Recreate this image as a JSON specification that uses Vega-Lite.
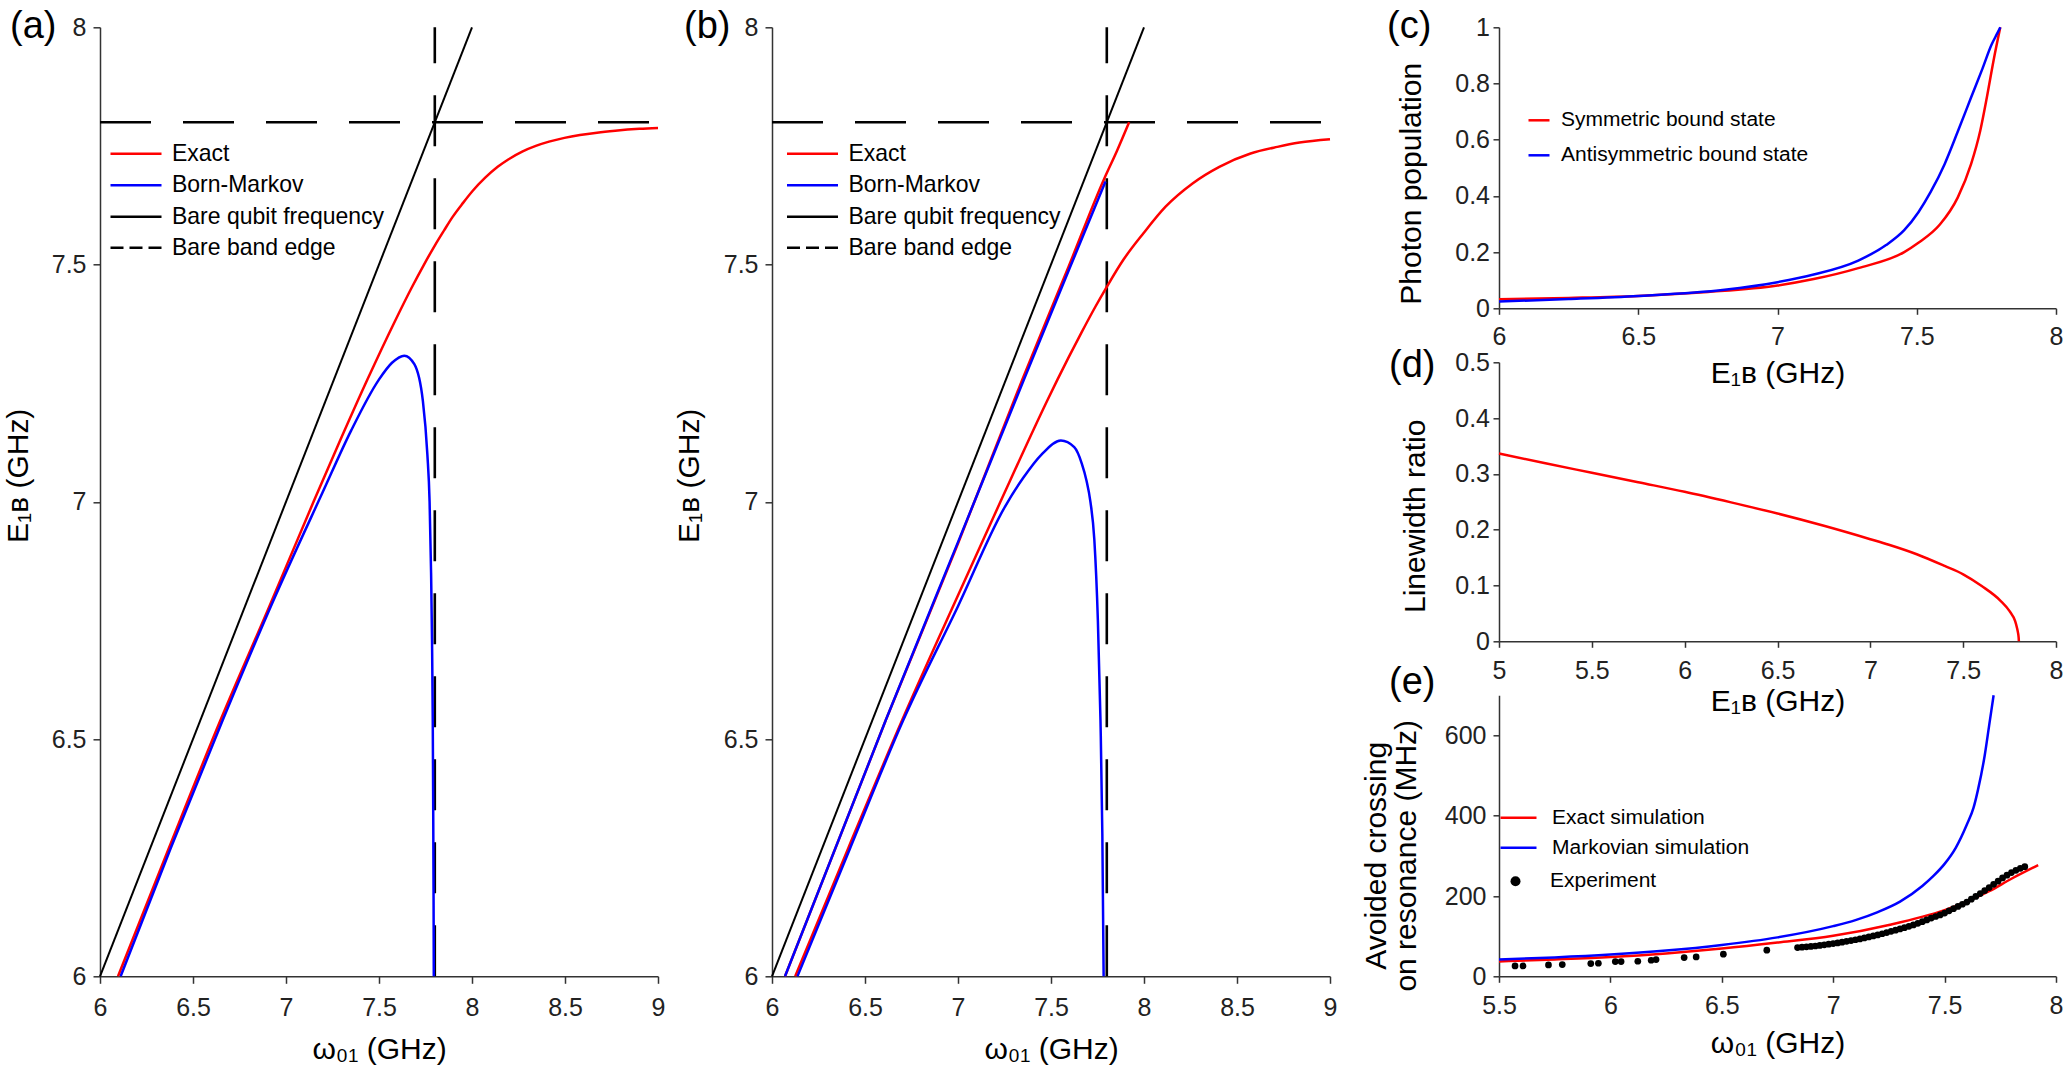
{
 "$schema": "https://vega.github.io/schema/vega-lite/v6.json",
 "background": "white",
 "padding": {"left": 3, "top": 8.3, "right": 5, "bottom": 5},
 "config": {
  "font": "Liberation Sans",
  "view": {"stroke": null},
  "axis": {"grid": false, "domainColor": "#333333", "domainWidth": 1.5, "tickColor": "#333333", "tickWidth": 1.5, "tickSize": 7, "labelFont": "Liberation Sans", "labelFontSize": 25, "labelColor": "#222222", "titleFont": "Liberation Sans", "titleFontSize": 30, "titleFontWeight": "normal", "titleColor": "#000000", "labelFlush": false, "labelOverlap": false},
  "legend": {"labelFont": "Liberation Sans", "labelColor": "#000000", "padding": 0, "labelLimit": 600}
 },
 "datasets": {
  "edges": [{"x": 6, "xe": 9, "y": 7.8, "ye": 7.8}, {"x": 7.8, "xe": 7.8, "y": 6, "ye": 8}],
  "a": [
   {"x": 6, "y": 6, "s": "Bare qubit frequency", "c": "bq"}, {"x": 8, "y": 8, "s": "Bare qubit frequency", "c": "bq"},
   {"x": 6.097, "y": 6.0, "s": "Exact", "c": "ex"}, {"x": 6.37, "y": 6.27, "s": "Exact", "c": "ex"}, {"x": 6.648, "y": 6.54, "s": "Exact", "c": "ex"}, {"x": 6.9, "y": 6.77, "s": "Exact", "c": "ex"}, {"x": 7.148, "y": 7.0, "s": "Exact", "c": "ex"}, {"x": 7.292, "y": 7.13, "s": "Exact", "c": "ex"}, {"x": 7.437, "y": 7.257, "s": "Exact", "c": "ex"}, {"x": 7.585, "y": 7.38, "s": "Exact", "c": "ex"}, {"x": 7.674, "y": 7.45, "s": "Exact", "c": "ex"}, {"x": 7.742, "y": 7.5, "s": "Exact", "c": "ex"}, {"x": 7.8, "y": 7.54, "s": "Exact", "c": "ex"}, {"x": 7.85, "y": 7.572, "s": "Exact", "c": "ex"}, {"x": 7.895, "y": 7.6, "s": "Exact", "c": "ex"}, {"x": 7.952, "y": 7.63, "s": "Exact", "c": "ex"}, {"x": 8.003, "y": 7.655, "s": "Exact", "c": "ex"}, {"x": 8.071, "y": 7.683, "s": "Exact", "c": "ex"}, {"x": 8.138, "y": 7.706, "s": "Exact", "c": "ex"}, {"x": 8.197, "y": 7.722, "s": "Exact", "c": "ex"}, {"x": 8.27, "y": 7.738, "s": "Exact", "c": "ex"}, {"x": 8.343, "y": 7.75, "s": "Exact", "c": "ex"}, {"x": 8.414, "y": 7.759, "s": "Exact", "c": "ex"}, {"x": 8.497, "y": 7.767, "s": "Exact", "c": "ex"}, {"x": 8.58, "y": 7.773, "s": "Exact", "c": "ex"}, {"x": 8.672, "y": 7.778, "s": "Exact", "c": "ex"}, {"x": 8.77, "y": 7.782, "s": "Exact", "c": "ex"}, {"x": 8.9, "y": 7.786, "s": "Exact", "c": "ex"}, {"x": 9.0, "y": 7.788, "s": "Exact", "c": "ex"},
   {"x": 6.111, "y": 6.0, "s": "Born-Markov", "c": "bm"}, {"x": 6.38, "y": 6.27, "s": "Born-Markov", "c": "bm"}, {"x": 6.66, "y": 6.54, "s": "Born-Markov", "c": "bm"}, {"x": 6.93, "y": 6.79, "s": "Born-Markov", "c": "bm"}, {"x": 7.197, "y": 7.02, "s": "Born-Markov", "c": "bm"}, {"x": 7.35, "y": 7.15, "s": "Born-Markov", "c": "bm"}, {"x": 7.497, "y": 7.256, "s": "Born-Markov", "c": "bm"}, {"x": 7.57, "y": 7.293, "s": "Born-Markov", "c": "bm"}, {"x": 7.636, "y": 7.308, "s": "Born-Markov", "c": "bm"}, {"x": 7.69, "y": 7.29, "s": "Born-Markov", "c": "bm"}, {"x": 7.736, "y": 7.212, "s": "Born-Markov", "c": "bm"}, {"x": 7.76, "y": 7.1, "s": "Born-Markov", "c": "bm"}, {"x": 7.772, "y": 7.0, "s": "Born-Markov", "c": "bm"}, {"x": 7.78, "y": 6.85, "s": "Born-Markov", "c": "bm"}, {"x": 7.785, "y": 6.71, "s": "Born-Markov", "c": "bm"}, {"x": 7.789, "y": 6.54, "s": "Born-Markov", "c": "bm"}, {"x": 7.791, "y": 6.39, "s": "Born-Markov", "c": "bm"}, {"x": 7.7935, "y": 6.15, "s": "Born-Markov", "c": "bm"}, {"x": 7.7945, "y": 6.0, "s": "Born-Markov", "c": "bm"}
  ],
  "b": [
   {"x": 6, "y": 6, "s": "Bare qubit frequency", "c": "bq"}, {"x": 8, "y": 8, "s": "Bare qubit frequency", "c": "bq"},
   {"x": 6.07, "y": 6.0, "s": "Exact", "c": "exu"}, {"x": 6.612, "y": 6.54, "s": "Exact", "c": "exu"}, {"x": 7.0, "y": 6.912, "s": "Exact", "c": "exu"}, {"x": 7.345, "y": 7.257, "s": "Exact", "c": "exu"}, {"x": 7.595, "y": 7.496, "s": "Exact", "c": "exu"}, {"x": 7.785, "y": 7.68, "s": "Exact", "c": "exu"}, {"x": 7.855, "y": 7.74, "s": "Exact", "c": "exu"}, {"x": 7.92, "y": 7.8, "s": "Exact", "c": "exu"},
   {"x": 6.125, "y": 6.0, "s": "Exact", "c": "exl"}, {"x": 6.41, "y": 6.27, "s": "Exact", "c": "exl"}, {"x": 6.7, "y": 6.54, "s": "Exact", "c": "exl"}, {"x": 6.962, "y": 6.77, "s": "Exact", "c": "exl"}, {"x": 7.228, "y": 7.0, "s": "Exact", "c": "exl"}, {"x": 7.482, "y": 7.215, "s": "Exact", "c": "exl"}, {"x": 7.534, "y": 7.257, "s": "Exact", "c": "exl"}, {"x": 7.663, "y": 7.356, "s": "Exact", "c": "exl"}, {"x": 7.737, "y": 7.41, "s": "Exact", "c": "exl"}, {"x": 7.8, "y": 7.453, "s": "Exact", "c": "exl"}, {"x": 7.889, "y": 7.51, "s": "Exact", "c": "exl"}, {"x": 7.997, "y": 7.566, "s": "Exact", "c": "exl"}, {"x": 8.116, "y": 7.622, "s": "Exact", "c": "exl"}, {"x": 8.261, "y": 7.671, "s": "Exact", "c": "exl"}, {"x": 8.405, "y": 7.706, "s": "Exact", "c": "exl"}, {"x": 8.573, "y": 7.734, "s": "Exact", "c": "exl"}, {"x": 8.717, "y": 7.748, "s": "Exact", "c": "exl"}, {"x": 8.836, "y": 7.757, "s": "Exact", "c": "exl"}, {"x": 9.0, "y": 7.764, "s": "Exact", "c": "exl"},
   {"x": 6.07, "y": 6.0, "s": "Born-Markov", "c": "bmu"}, {"x": 6.612, "y": 6.54, "s": "Born-Markov", "c": "bmu"}, {"x": 7.0, "y": 6.915, "s": "Born-Markov", "c": "bmu"}, {"x": 7.354, "y": 7.257, "s": "Born-Markov", "c": "bmu"}, {"x": 7.6, "y": 7.492, "s": "Born-Markov", "c": "bmu"}, {"x": 7.793, "y": 7.675, "s": "Born-Markov", "c": "bmu"},
   {"x": 6.137, "y": 6.0, "s": "Born-Markov", "c": "bml"}, {"x": 6.42, "y": 6.27, "s": "Born-Markov", "c": "bml"}, {"x": 6.706, "y": 6.54, "s": "Born-Markov", "c": "bml"}, {"x": 7.0, "y": 6.78, "s": "Born-Markov", "c": "bml"}, {"x": 7.253, "y": 6.99, "s": "Born-Markov", "c": "bml"}, {"x": 7.35, "y": 7.05, "s": "Born-Markov", "c": "bml"}, {"x": 7.45, "y": 7.1, "s": "Born-Markov", "c": "bml"}, {"x": 7.553, "y": 7.129, "s": "Born-Markov", "c": "bml"}, {"x": 7.625, "y": 7.115, "s": "Born-Markov", "c": "bml"}, {"x": 7.666, "y": 7.08, "s": "Born-Markov", "c": "bml"}, {"x": 7.69, "y": 7.046, "s": "Born-Markov", "c": "bml"}, {"x": 7.712, "y": 7.0, "s": "Born-Markov", "c": "bml"}, {"x": 7.733, "y": 6.92, "s": "Born-Markov", "c": "bml"}, {"x": 7.752, "y": 6.75, "s": "Born-Markov", "c": "bml"}, {"x": 7.766, "y": 6.54, "s": "Born-Markov", "c": "bml"}, {"x": 7.776, "y": 6.3, "s": "Born-Markov", "c": "bml"}, {"x": 7.783, "y": 6.0, "s": "Born-Markov", "c": "bml"}
  ],
  "c": [
   {"x": 6.0, "y": 0.032, "s": "Symmetric bound state"}, {"x": 6.25, "y": 0.037, "s": "Symmetric bound state"}, {"x": 6.5, "y": 0.044, "s": "Symmetric bound state"}, {"x": 6.75, "y": 0.058, "s": "Symmetric bound state"}, {"x": 7.0, "y": 0.081, "s": "Symmetric bound state"}, {"x": 7.13, "y": 0.104, "s": "Symmetric bound state"}, {"x": 7.29, "y": 0.143, "s": "Symmetric bound state"}, {"x": 7.455, "y": 0.2, "s": "Symmetric bound state"}, {"x": 7.506, "y": 0.233, "s": "Symmetric bound state"}, {"x": 7.583, "y": 0.298, "s": "Symmetric bound state"}, {"x": 7.647, "y": 0.394, "s": "Symmetric bound state"}, {"x": 7.695, "y": 0.513, "s": "Symmetric bound state"}, {"x": 7.728, "y": 0.632, "s": "Symmetric bound state"}, {"x": 7.752, "y": 0.752, "s": "Symmetric bound state"}, {"x": 7.776, "y": 0.883, "s": "Symmetric bound state"}, {"x": 7.8, "y": 1.0, "s": "Symmetric bound state"},
   {"x": 6.0, "y": 0.024, "s": "Antisymmetric bound state"}, {"x": 6.25, "y": 0.033, "s": "Antisymmetric bound state"}, {"x": 6.5, "y": 0.044, "s": "Antisymmetric bound state"}, {"x": 6.81, "y": 0.066, "s": "Antisymmetric bound state"}, {"x": 7.0, "y": 0.093, "s": "Antisymmetric bound state"}, {"x": 7.13, "y": 0.12, "s": "Antisymmetric bound state"}, {"x": 7.29, "y": 0.17, "s": "Antisymmetric bound state"}, {"x": 7.39, "y": 0.225, "s": "Antisymmetric bound state"}, {"x": 7.455, "y": 0.278, "s": "Antisymmetric bound state"}, {"x": 7.506, "y": 0.342, "s": "Antisymmetric bound state"}, {"x": 7.55, "y": 0.414, "s": "Antisymmetric bound state"}, {"x": 7.6, "y": 0.513, "s": "Antisymmetric bound state"}, {"x": 7.647, "y": 0.628, "s": "Antisymmetric bound state"}, {"x": 7.695, "y": 0.75, "s": "Antisymmetric bound state"}, {"x": 7.736, "y": 0.853, "s": "Antisymmetric bound state"}, {"x": 7.768, "y": 0.937, "s": "Antisymmetric bound state"}, {"x": 7.79, "y": 0.98, "s": "Antisymmetric bound state"}, {"x": 7.8, "y": 1.0, "s": "Antisymmetric bound state"}
  ],
  "d": [
   {"x": 5.0, "y": 0.3365}, {"x": 5.25, "y": 0.319}, {"x": 5.5, "y": 0.302}, {"x": 5.75, "y": 0.285}, {"x": 6.0, "y": 0.268}, {"x": 6.25, "y": 0.249}, {"x": 6.5, "y": 0.229}, {"x": 6.75, "y": 0.207}, {"x": 7.0, "y": 0.183}, {"x": 7.1, "y": 0.173}, {"x": 7.25, "y": 0.156}, {"x": 7.4, "y": 0.135}, {"x": 7.5, "y": 0.12}, {"x": 7.6, "y": 0.099}, {"x": 7.7, "y": 0.073}, {"x": 7.75, "y": 0.054}, {"x": 7.78, "y": 0.036}, {"x": 7.79, "y": 0.024}, {"x": 7.795, "y": 0.016}, {"x": 7.799, "y": 0.006}, {"x": 7.8, "y": 0.0}
  ],
  "e": [
   {"x": 5.5, "y": 37, "s": "Exact simulation"}, {"x": 5.75, "y": 42, "s": "Exact simulation"}, {"x": 6.0, "y": 48, "s": "Exact simulation"}, {"x": 6.25, "y": 57, "s": "Exact simulation"}, {"x": 6.5, "y": 69, "s": "Exact simulation"}, {"x": 6.75, "y": 84, "s": "Exact simulation"}, {"x": 7.0, "y": 101, "s": "Exact simulation"}, {"x": 7.25, "y": 128, "s": "Exact simulation"}, {"x": 7.5, "y": 165, "s": "Exact simulation"}, {"x": 7.6, "y": 186, "s": "Exact simulation"}, {"x": 7.7, "y": 212, "s": "Exact simulation"}, {"x": 7.8, "y": 243, "s": "Exact simulation"}, {"x": 7.92, "y": 277, "s": "Exact simulation"},
   {"x": 5.5, "y": 42, "s": "Markovian simulation"}, {"x": 5.75, "y": 47, "s": "Markovian simulation"}, {"x": 6.0, "y": 54, "s": "Markovian simulation"}, {"x": 6.25, "y": 64, "s": "Markovian simulation"}, {"x": 6.5, "y": 78, "s": "Markovian simulation"}, {"x": 6.75, "y": 97, "s": "Markovian simulation"}, {"x": 7.0, "y": 125, "s": "Markovian simulation"}, {"x": 7.1, "y": 140, "s": "Markovian simulation"}, {"x": 7.2, "y": 160, "s": "Markovian simulation"}, {"x": 7.3, "y": 186, "s": "Markovian simulation"}, {"x": 7.4, "y": 225, "s": "Markovian simulation"}, {"x": 7.45, "y": 250, "s": "Markovian simulation"}, {"x": 7.5, "y": 280, "s": "Markovian simulation"}, {"x": 7.55, "y": 320, "s": "Markovian simulation"}, {"x": 7.6, "y": 378, "s": "Markovian simulation"}, {"x": 7.63, "y": 420, "s": "Markovian simulation"}, {"x": 7.65, "y": 465, "s": "Markovian simulation"}, {"x": 7.68, "y": 550, "s": "Markovian simulation"}, {"x": 7.7, "y": 625, "s": "Markovian simulation"}, {"x": 7.72, "y": 700, "s": "Markovian simulation"}
  ],
  "epts": [
   {"x": 5.572, "y": 25.8, "k": "Experiment"}, {"x": 5.608, "y": 25.8, "k": "Experiment"}, {"x": 5.722, "y": 28.3, "k": "Experiment"}, {"x": 5.784, "y": 29.2, "k": "Experiment"}, {"x": 5.912, "y": 31.7, "k": "Experiment"}, {"x": 5.946, "y": 32.5, "k": "Experiment"}, {"x": 6.022, "y": 36.7, "k": "Experiment"}, {"x": 6.048, "y": 36.7, "k": "Experiment"}, {"x": 6.123, "y": 37.5, "k": "Experiment"}, {"x": 6.183, "y": 40, "k": "Experiment"}, {"x": 6.205, "y": 41.7, "k": "Experiment"}, {"x": 6.331, "y": 46.7, "k": "Experiment"}, {"x": 6.385, "y": 48.3, "k": "Experiment"}, {"x": 6.507, "y": 55, "k": "Experiment"}, {"x": 6.702, "y": 65, "k": "Experiment"},
   {"x": 6.84, "y": 71.5, "k": "Experiment"}, {"x": 6.86, "y": 72.5, "k": "Experiment"}, {"x": 6.88, "y": 73.5, "k": "Experiment"}, {"x": 6.9, "y": 74.5, "k": "Experiment"}, {"x": 6.92, "y": 75.5, "k": "Experiment"}, {"x": 6.94, "y": 77, "k": "Experiment"}, {"x": 6.96, "y": 78.5, "k": "Experiment"}, {"x": 6.98, "y": 80, "k": "Experiment"}, {"x": 7.0, "y": 81.5, "k": "Experiment"}, {"x": 7.02, "y": 83, "k": "Experiment"}, {"x": 7.04, "y": 85, "k": "Experiment"}, {"x": 7.06, "y": 87, "k": "Experiment"}, {"x": 7.08, "y": 89, "k": "Experiment"}, {"x": 7.1, "y": 91, "k": "Experiment"}, {"x": 7.12, "y": 93, "k": "Experiment"}, {"x": 7.14, "y": 95.5, "k": "Experiment"}, {"x": 7.16, "y": 98, "k": "Experiment"}, {"x": 7.18, "y": 100.5, "k": "Experiment"}, {"x": 7.2, "y": 103, "k": "Experiment"}, {"x": 7.22, "y": 106, "k": "Experiment"}, {"x": 7.24, "y": 109, "k": "Experiment"}, {"x": 7.26, "y": 112, "k": "Experiment"}, {"x": 7.28, "y": 115, "k": "Experiment"}, {"x": 7.3, "y": 118, "k": "Experiment"}, {"x": 7.32, "y": 121, "k": "Experiment"}, {"x": 7.34, "y": 124.5, "k": "Experiment"}, {"x": 7.36, "y": 128, "k": "Experiment"}, {"x": 7.38, "y": 132, "k": "Experiment"}, {"x": 7.4, "y": 136, "k": "Experiment"}, {"x": 7.42, "y": 140.5, "k": "Experiment"}, {"x": 7.44, "y": 145, "k": "Experiment"}, {"x": 7.46, "y": 149, "k": "Experiment"}, {"x": 7.48, "y": 153, "k": "Experiment"}, {"x": 7.5, "y": 157.5, "k": "Experiment"}, {"x": 7.52, "y": 163, "k": "Experiment"}, {"x": 7.54, "y": 168.5, "k": "Experiment"}, {"x": 7.56, "y": 174, "k": "Experiment"}, {"x": 7.58, "y": 179.5, "k": "Experiment"}, {"x": 7.6, "y": 185, "k": "Experiment"}, {"x": 7.62, "y": 192, "k": "Experiment"}, {"x": 7.64, "y": 199, "k": "Experiment"}, {"x": 7.66, "y": 206, "k": "Experiment"}, {"x": 7.68, "y": 213.5, "k": "Experiment"}, {"x": 7.7, "y": 221, "k": "Experiment"}, {"x": 7.72, "y": 229, "k": "Experiment"}, {"x": 7.74, "y": 237, "k": "Experiment"}, {"x": 7.76, "y": 245, "k": "Experiment"}, {"x": 7.78, "y": 252, "k": "Experiment"}, {"x": 7.8, "y": 258.5, "k": "Experiment"}, {"x": 7.82, "y": 264, "k": "Experiment"}, {"x": 7.84, "y": 269, "k": "Experiment"}, {"x": 7.86, "y": 273, "k": "Experiment"}
  ]
 },
 "spacing": 25,
 "bounds": "full",
 "resolve": {"scale": {"color": "independent", "strokeDash": "independent", "shape": "independent"}, "legend": {"color": "independent", "strokeDash": "independent", "shape": "independent"}},
 "hconcat": [
  {
   "spacing": 114,
   "bounds": "flush",
   "resolve": {"scale": {"color": "independent", "strokeDash": "independent", "shape": "independent"}, "legend": {"color": "independent", "strokeDash": "independent", "shape": "independent"}},
   "hconcat": [
    {
     "width": 558, "height": 949,
     "title": {"text": "(a)", "anchor": "start", "frame": "group", "orient": "top", "offset": 0, "dx": -90, "dy": 61, "baseline": "alphabetic", "fontSize": 38, "fontWeight": "normal", "color": "#000000"},
     "encoding": {
      "x": {"field": "x", "type": "quantitative", "scale": {"domain": [6, 9], "nice": false, "zero": false}, "axis": {"title": "ω₀₁ (GHz)", "values": [6, 6.5, 7, 7.5, 8, 8.5, 9], "labelExpr": "'' + datum.value", "labelPadding": 12, "titleY": 82, "titleBaseline": "alphabetic"}},
      "y": {"field": "y", "type": "quantitative", "scale": {"domain": [6, 8], "nice": false, "zero": false}, "axis": {"title": "E₁ʙ (GHz)", "values": [6, 6.5, 7, 7.5, 8], "labelExpr": "'' + datum.value", "labelPadding": 7, "titleX": -67, "titleY": 448, "titleAngle": 270, "titleBaseline": "bottom", "titleAlign": "center"}}
     },
     "layer": [
      {"data": {"name": "edges"}, "mark": {"type": "rule", "color": "#000000", "strokeWidth": 2.6, "strokeDash": [51, 32]}, "encoding": {"x2": {"field": "xe"}, "y2": {"field": "ye"}}},
      {"data": {"values": [{"edge": "Bare band edge"}]}, "mark": {"type": "line", "color": "#000000"}, "encoding": {"strokeDash": {"field": "edge", "type": "nominal", "scale": {"domain": ["Bare band edge"], "range": [[13, 6]]}, "legend": {"orient": "none", "legendX": 9, "legendY": 208.5, "title": null, "symbolType": "stroke", "symbolSize": 2601, "symbolStrokeWidth": 2.5, "symbolStrokeColor": "#000000", "labelFontSize": 23, "labelOffset": 9, "clipHeight": 24, "padding": 0}}}},
      {"data": {"name": "a"}, "transform": [{"filter": "datum.s === 'Bare qubit frequency'"}], "mark": {"type": "line", "strokeWidth": 2}, "encoding": {"color": {"field": "s", "type": "nominal", "scale": {"domain": ["Exact", "Born-Markov", "Bare qubit frequency"], "range": ["#ff0000", "#0000ff", "#000000"]}, "legend": {"orient": "none", "legendX": 9, "legendY": 114.5, "title": null, "symbolType": "stroke", "symbolSize": 2601, "symbolStrokeWidth": 2.5, "labelFontSize": 23, "labelOffset": 9, "clipHeight": 24, "rowPadding": 7.5, "padding": 0}}}},
      {"data": {"name": "a"}, "transform": [{"filter": "datum.s === 'Exact'"}], "mark": {"type": "line", "strokeWidth": 2.5, "interpolate": "monotone"}, "encoding": {"color": {"field": "s", "type": "nominal"}, "detail": {"field": "c"}}},
      {"data": {"name": "a"}, "transform": [{"filter": "datum.s === 'Born-Markov'"}], "mark": {"type": "line", "strokeWidth": 2.5, "interpolate": "monotone"}, "encoding": {"color": {"field": "s", "type": "nominal"}, "detail": {"field": "c"}}}
     ]
    },
    {
     "width": 558, "height": 949,
     "title": {"text": "(b)", "anchor": "start", "frame": "group", "orient": "top", "offset": 0, "dx": -88, "dy": 61, "baseline": "alphabetic", "fontSize": 38, "fontWeight": "normal", "color": "#000000"},
     "encoding": {
      "x": {"field": "x", "type": "quantitative", "scale": {"domain": [6, 9], "nice": false, "zero": false}, "axis": {"title": "ω₀₁ (GHz)", "values": [6, 6.5, 7, 7.5, 8, 8.5, 9], "labelExpr": "'' + datum.value", "labelPadding": 12, "titleY": 82, "titleBaseline": "alphabetic"}},
      "y": {"field": "y", "type": "quantitative", "scale": {"domain": [6, 8], "nice": false, "zero": false}, "axis": {"title": "E₁ʙ (GHz)", "values": [6, 6.5, 7, 7.5, 8], "labelExpr": "'' + datum.value", "labelPadding": 7, "titleX": -68, "titleY": 448, "titleAngle": 270, "titleBaseline": "bottom", "titleAlign": "center"}}
     },
     "layer": [
      {"data": {"name": "edges"}, "mark": {"type": "rule", "color": "#000000", "strokeWidth": 2.6, "strokeDash": [51, 32]}, "encoding": {"x2": {"field": "xe"}, "y2": {"field": "ye"}}},
      {"data": {"values": [{"edge": "Bare band edge"}]}, "mark": {"type": "line", "color": "#000000"}, "encoding": {"strokeDash": {"field": "edge", "type": "nominal", "scale": {"domain": ["Bare band edge"], "range": [[13, 6]]}, "legend": {"orient": "none", "legendX": 13.5, "legendY": 208.5, "title": null, "symbolType": "stroke", "symbolSize": 2601, "symbolStrokeWidth": 2.5, "symbolStrokeColor": "#000000", "labelFontSize": 23, "labelOffset": 9, "clipHeight": 24, "padding": 0}}}},
      {"data": {"name": "b"}, "transform": [{"filter": "datum.s === 'Bare qubit frequency'"}], "mark": {"type": "line", "strokeWidth": 2}, "encoding": {"color": {"field": "s", "type": "nominal", "scale": {"domain": ["Exact", "Born-Markov", "Bare qubit frequency"], "range": ["#ff0000", "#0000ff", "#000000"]}, "legend": {"orient": "none", "legendX": 13.5, "legendY": 114.5, "title": null, "symbolType": "stroke", "symbolSize": 2601, "symbolStrokeWidth": 2.5, "labelFontSize": 23, "labelOffset": 9, "clipHeight": 24, "rowPadding": 7.5, "padding": 0}}}},
      {"data": {"name": "b"}, "transform": [{"filter": "datum.s === 'Exact'"}], "mark": {"type": "line", "strokeWidth": 2.5, "interpolate": "monotone"}, "encoding": {"color": {"field": "s", "type": "nominal"}, "detail": {"field": "c"}}},
      {"data": {"name": "b"}, "transform": [{"filter": "datum.s === 'Born-Markov'"}], "mark": {"type": "line", "strokeWidth": 2.5, "interpolate": "monotone"}, "encoding": {"color": {"field": "s", "type": "nominal"}, "detail": {"field": "c"}}}
     ]
    }
   ]
  },
  {
   "spacing": 54,
   "bounds": "flush",
   "resolve": {"scale": {"color": "independent", "strokeDash": "independent", "shape": "independent"}, "legend": {"color": "independent", "strokeDash": "independent", "shape": "independent"}},
   "vconcat": [
    {
     "width": 557, "height": 281,
     "title": {"text": "(c)", "anchor": "start", "frame": "group", "orient": "top", "offset": 0, "dx": -112, "dy": 61, "baseline": "alphabetic", "fontSize": 38, "fontWeight": "normal", "color": "#000000"},
     "data": {"name": "c"},
     "encoding": {
      "x": {"field": "x", "type": "quantitative", "scale": {"domain": [6, 8], "nice": false, "zero": false}, "axis": {"title": "E₁ʙ (GHz)", "values": [6, 6.5, 7, 7.5, 8], "labelExpr": "'' + datum.value", "tickSize": 6, "labelPadding": 10, "titleY": 74, "titleBaseline": "alphabetic"}},
      "y": {"field": "y", "type": "quantitative", "scale": {"domain": [0, 1], "nice": false}, "axis": {"title": "Photon population", "values": [0, 0.2, 0.4, 0.6, 0.8, 1], "labelExpr": "'' + datum.value", "tickSize": 6, "labelPadding": 3.5, "titleX": -72, "titleY": 156, "titleAngle": 270, "titleBaseline": "bottom", "titleAlign": "center"}},
      "color": {"field": "s", "type": "nominal", "scale": {"domain": ["Symmetric bound state", "Antisymmetric bound state"], "range": ["#ff0000", "#0000ff"]}, "legend": {"orient": "none", "legendX": 28, "legendY": 81, "title": null, "symbolType": "stroke", "symbolSize": 441, "symbolStrokeWidth": 2.5, "labelFontSize": 21, "labelOffset": 10, "rowPadding": 13, "padding": 0}}
     },
     "layer": [
      {"transform": [{"filter": "datum.s === 'Symmetric bound state'"}], "mark": {"type": "line", "strokeWidth": 2.5, "interpolate": "monotone"}},
      {"transform": [{"filter": "datum.s === 'Antisymmetric bound state'"}], "mark": {"type": "line", "strokeWidth": 2.5, "interpolate": "monotone"}}
     ]
    },
    {
     "width": 557, "height": 279,
     "title": {"text": "(d)", "anchor": "start", "frame": "group", "orient": "top", "offset": 0, "dx": -110, "dy": 65, "baseline": "alphabetic", "fontSize": 38, "fontWeight": "normal", "color": "#000000"},
     "data": {"name": "d"},
     "mark": {"type": "line", "strokeWidth": 2.5, "color": "#ff0000", "interpolate": "monotone"},
     "encoding": {
      "x": {"field": "x", "type": "quantitative", "scale": {"domain": [5, 8], "nice": false, "zero": false}, "axis": {"title": "E₁ʙ (GHz)", "values": [5, 5.5, 6, 6.5, 7, 7.5, 8], "labelExpr": "'' + datum.value", "tickSize": 6, "labelPadding": 11, "titleY": 69, "titleBaseline": "alphabetic"}},
      "y": {"field": "y", "type": "quantitative", "scale": {"domain": [0, 0.5], "nice": false}, "axis": {"title": "Linewidth ratio", "values": [0, 0.1, 0.2, 0.3, 0.4, 0.5], "labelExpr": "'' + datum.value", "tickSize": 6, "labelPadding": 3.5, "titleX": -68, "titleY": 153.5, "titleAngle": 270, "titleBaseline": "bottom", "titleAlign": "center"}}
     }
    },
    {
     "width": 557, "height": 281,
     "title": {"text": "(e)", "anchor": "start", "frame": "group", "orient": "top", "offset": 0, "dx": -110, "dy": 42, "baseline": "alphabetic", "fontSize": 38, "fontWeight": "normal", "color": "#000000"},
     "encoding": {
      "x": {"field": "x", "type": "quantitative", "scale": {"domain": [5.5, 8], "nice": false, "zero": false}, "axis": {"title": "ω₀₁ (GHz)", "values": [5.5, 6, 6.5, 7, 7.5, 8], "labelExpr": "'' + datum.value", "tickSize": 6, "labelPadding": 11, "titleY": 76, "titleBaseline": "alphabetic"}},
      "y": {"field": "y", "type": "quantitative", "scale": {"domain": [0, 700], "nice": false}, "axis": {"title": ["Avoided crossing", "on resonance (MHz)"], "values": [0, 200, 400, 600], "labelExpr": "'' + datum.value", "tickSize": 6, "labelPadding": 7, "titleLineHeight": 30, "titleX": -107, "titleY": 160, "titleAngle": 270, "titleBaseline": "bottom", "titleAlign": "center"}}
     },
     "layer": [
      {"data": {"name": "e"}, "transform": [{"filter": "datum.s === 'Exact simulation'"}], "mark": {"type": "line", "strokeWidth": 2.5, "interpolate": "monotone"}, "encoding": {"color": {"field": "s", "type": "nominal", "scale": {"domain": ["Exact simulation", "Markovian simulation"], "range": ["#ff0000", "#0000ff"]}, "legend": {"orient": "none", "legendX": 0, "legendY": 103, "title": null, "symbolType": "stroke", "symbolSize": 1296, "symbolStrokeWidth": 2.5, "labelFontSize": 21, "labelOffset": 14, "rowPadding": 0, "padding": 0}}}},
      {"data": {"name": "e"}, "transform": [{"filter": "datum.s === 'Markovian simulation'"}], "mark": {"type": "line", "strokeWidth": 2.5, "interpolate": "monotone"}, "encoding": {"color": {"field": "s", "type": "nominal"}}},
      {"data": {"name": "epts"}, "mark": {"type": "point", "filled": true, "size": 45, "color": "#000000", "opacity": 1}, "encoding": {"shape": {"field": "k", "type": "nominal", "scale": {"domain": ["Experiment"], "range": ["circle"]}, "legend": {"orient": "none", "legendX": 6, "legendY": 175.5, "title": null, "symbolSize": 100, "symbolFillColor": "#000000", "symbolStrokeColor": "#000000", "symbolOpacity": 1, "labelFontSize": 21, "labelOffset": 24, "padding": 0}}}}
     ]
    }
   ]
  }
 ]
}
